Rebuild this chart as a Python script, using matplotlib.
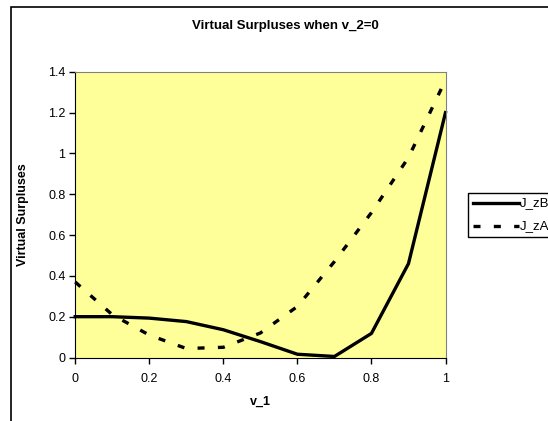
import numpy as np
import matplotlib
matplotlib.use("Agg")
import matplotlib.pyplot as plt
from matplotlib.patches import Rectangle
from matplotlib.lines import Line2D

plt.rcParams['font.family'] = ['Liberation Sans', 'DejaVu Sans']

v1 = [0.0, 0.1, 0.2, 0.3, 0.4, 0.5, 0.6, 0.7, 0.8, 0.9, 1.0]
j_zb = [0.2, 0.2, 0.193, 0.176, 0.136, 0.078, 0.016, 0.005, 0.118, 0.46, 1.2]
j_za = [0.37, 0.21, 0.11, 0.044, 0.05, 0.12, 0.25, 0.47, 0.71, 0.98, 1.36]
series_names = ["J_zB", "J_zA"]

W, H = 548, 421
fig = plt.figure(figsize=(W / 100, H / 100), dpi=100)


def fx(px):
    return px / W


def fy(py):
    return 1 - py / H


# outer chart frame (runs off the right and bottom edges)
fig.patches.append(Rectangle((fx(10.5), -0.05), 1.0, fy(7) + 0.05,
                             transform=fig.transFigure, fill=False,
                             lw=1.2, ec="black"))

ax = fig.add_axes([fx(75.2), fy(357.5), fx(445.5 - 75.2), (357.5 - 71.8) / H])
ax.set_facecolor("#FFFF99")
solid = dict(color="black", lw=2.4, ls="-")
dashed = dict(color="black", lw=2.4, ls=(0, (2.1, 4.0)))
ax.plot(v1, j_zb, clip_on=False, **solid)
ax.plot(v1, j_za, clip_on=False, **dashed)

ax.set_xlim(0, 1)
ax.set_ylim(0, 1.4)
ax.set_xticks(np.arange(0, 1.01, 0.2))
ax.set_xticklabels(["0", "0.2", "0.4", "0.6", "0.8", "1"])
ax.set_yticks(np.arange(0, 1.41, 0.2))
ax.set_yticklabels(["0", "0.2", "0.4", "0.6", "0.8", "1", "1.2", "1.4"])
ax.tick_params(direction="out", length=4, width=1, labelsize=9, pad=3)
ax.tick_params(axis="x", pad=7)
for side in ("top", "right"):
    ax.spines[side].set_color("#808080")

ax.set_xlabel("v_1", fontsize=9, fontweight="bold", labelpad=8)
ax.set_ylabel("Virtual Surpluses", fontsize=9, fontweight="bold", labelpad=14)
fig.text(fx(285.7), fy(26), "Virtual Surpluses when v_2=0",
         ha="center", va="center", fontsize=9.5, fontweight="bold")

# legend box, cut off by the right edge like the original
fig.patches.append(Rectangle((fx(468.4), fy(236.7)), 0.2, (236.7 - 192.7) / H,
                             transform=fig.transFigure, fc="white",
                             ec="black", lw=1.0))
for name, style, ypx in zip(series_names, [solid, dashed], [202.7, 226.0]):
    fig.lines.append(Line2D([fx(472.6), fx(519)], [fy(ypx), fy(ypx)],
                            transform=fig.transFigure, **style))
    fig.text(fx(519.5), fy(ypx), name, ha="left", va="center", fontsize=9.5)

fig.savefig("out.png", dpi=100)
